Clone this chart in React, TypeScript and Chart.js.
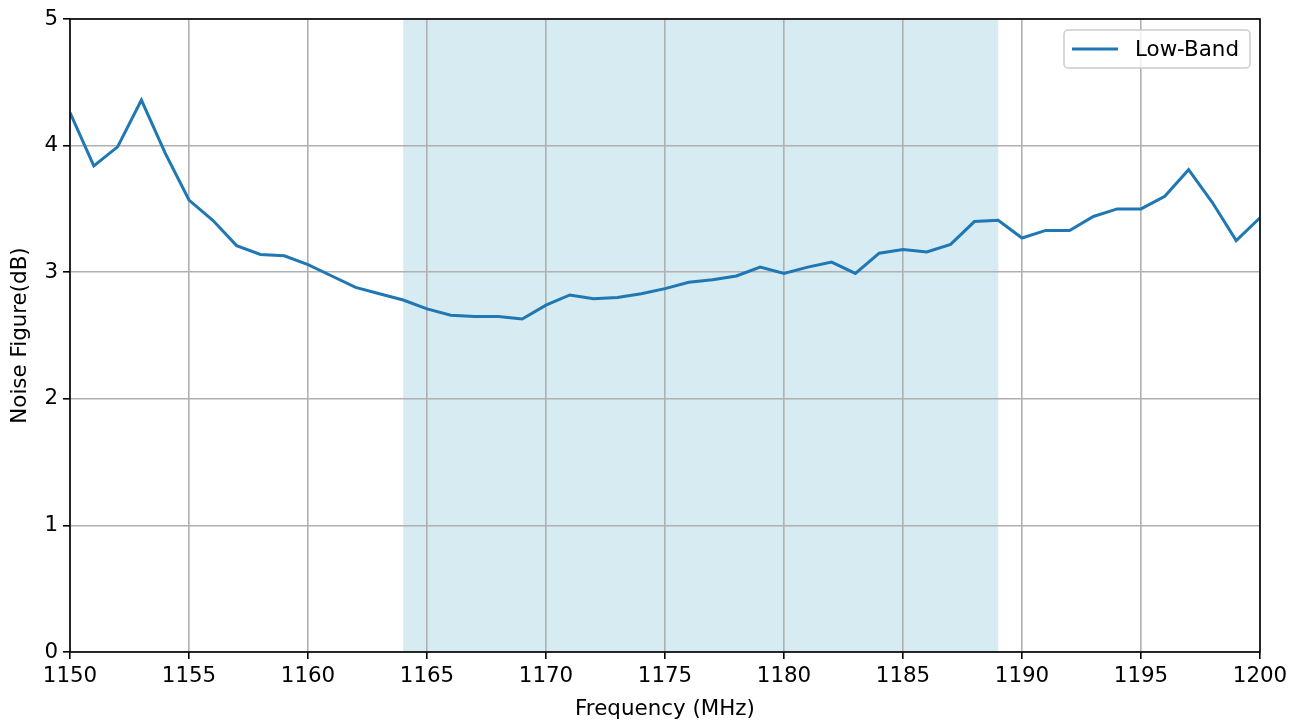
import React, { useEffect, useRef } from "react";
import { Chart, registerables } from "chart.js";

Chart.register(...registerables);

const frequencies = [
  1150, 1151, 1152, 1153, 1154, 1155, 1156, 1157, 1158, 1159,
  1160, 1161, 1162, 1163, 1164, 1165, 1166, 1167, 1168, 1169,
  1170, 1171, 1172, 1173, 1174, 1175, 1176, 1177, 1178, 1179,
  1180, 1181, 1182, 1183, 1184, 1185, 1186, 1187, 1188, 1189,
  1190, 1191, 1192, 1193, 1194, 1195, 1196, 1197, 1198, 1199, 1200,
];
const noiseFigure = [
  4.26, 3.84, 3.99, 4.36, 3.94, 3.57, 3.41, 3.21, 3.14, 3.13,
  3.06, 2.97, 2.88, 2.83, 2.78, 2.71, 2.66, 2.65, 2.65, 2.63,
  2.74, 2.82, 2.79, 2.8, 2.83, 2.87, 2.92, 2.94, 2.97, 3.04,
  2.99, 3.04, 3.08, 2.99, 3.15, 3.18, 3.16, 3.22, 3.4, 3.41,
  3.27, 3.33, 3.33, 3.44, 3.5, 3.5, 3.6, 3.81, 3.55, 3.25, 3.43,
];
const bandRange = [1164, 1189];
const seriesLabel = "Low-Band";
const xTitle = "Frequency (MHz)";
const yTitle = "Noise Figure(dB)";

const FONT = "'DejaVu Sans', sans-serif";
const FONT_SIZE = 21.4;
const LINE_COLOR = "#1f77b4";

const bandPlugin = {
  id: "band",
  beforeDraw(chart: any) {
    const { ctx, chartArea, scales } = chart;
    const x0 = scales.x.getPixelForValue(bandRange[0]);
    const x1 = scales.x.getPixelForValue(bandRange[1]);
    ctx.save();
    ctx.fillStyle = "rgba(173,216,230,0.5)";
    ctx.fillRect(x0, chartArea.top, x1 - x0, chartArea.bottom - chartArea.top);
    ctx.restore();
  },
};

const framePlugin = {
  id: "frame",
  afterDraw(chart: any) {
    const { ctx, chartArea } = chart;
    ctx.save();
    ctx.strokeStyle = "#000";
    ctx.lineWidth = 1.6;
    ctx.strokeRect(
      chartArea.left,
      chartArea.top,
      chartArea.right - chartArea.left,
      chartArea.bottom - chartArea.top
    );
    // legend
    const w = 186;
    const h = 38;
    const lx = chartArea.right - 10 - w;
    const ly = chartArea.top + 11;
    ctx.beginPath();
    ctx.roundRect(lx, ly, w, h, 4);
    ctx.fillStyle = "rgba(255,255,255,0.8)";
    ctx.fill();
    ctx.strokeStyle = "#cccccc";
    ctx.lineWidth = 1.5;
    ctx.stroke();
    ctx.beginPath();
    ctx.moveTo(lx + 8, ly + h / 2);
    ctx.lineTo(lx + 54, ly + h / 2);
    ctx.strokeStyle = LINE_COLOR;
    ctx.lineWidth = 3;
    ctx.stroke();
    ctx.fillStyle = "#000";
    ctx.font = `${FONT_SIZE}px ${FONT}`;
    ctx.textBaseline = "middle";
    ctx.textAlign = "left";
    ctx.fillText(seriesLabel, lx + 71, ly + h / 2 + 1);
    ctx.restore();
  },
};

export default function App() {
  const ref = useRef<HTMLCanvasElement | null>(null);
  useEffect(() => {
    if (!ref.current) return;
    const data = frequencies.map((f, i) => ({ x: f, y: noiseFigure[i] }));
    const chart = new Chart(ref.current, {
      type: "line",
      data: {
        datasets: [
          {
            label: seriesLabel,
            data,
            borderColor: LINE_COLOR,
            borderWidth: 3,
            pointRadius: 0,
            tension: 0,
            fill: false,
          },
        ],
      },
      plugins: [bandPlugin, framePlugin],
      options: {
        animation: false,
        responsive: false,
        maintainAspectRatio: false,
        layout: { padding: { top: 19, right: 46, left: 0, bottom: 0 } },
        plugins: {
          legend: { display: false },
          tooltip: { enabled: false },
        },
        scales: {
          x: {
            type: "linear",
            min: 1150,
            max: 1200,
            afterFit(scale: any) {
              scale.height = 70;
            },
            ticks: {
              stepSize: 5,
              autoSkip: false,
              maxRotation: 0,
              color: "#000",
              padding: 5,
              font: { family: FONT, size: FONT_SIZE },
              callback: (v: any) => String(v),
            },
            grid: {
              color: "#b0b0b0",
              lineWidth: 1.6,
              tickColor: "#000",
              tickLength: 7,
            },
            border: { display: false },
            title: {
              display: true,
              text: xTitle,
              color: "#000",
              font: { family: FONT, size: FONT_SIZE },
              padding: { top: 0, bottom: 0 },
            },
          },
          y: {
            type: "linear",
            min: 0,
            max: 5,
            afterFit(scale: any) {
              scale.width = 70;
            },
            ticks: {
              stepSize: 1,
              color: "#000",
              padding: 5,
              font: { family: FONT, size: FONT_SIZE },
              callback: (v: any) => String(v),
            },
            grid: {
              color: "#b0b0b0",
              lineWidth: 1.6,
              tickColor: "#000",
              tickLength: 7,
            },
            border: { display: false },
            title: {
              display: true,
              text: yTitle,
              color: "#000",
              font: { family: FONT, size: FONT_SIZE },
              padding: { top: 8, bottom: 0 },
            },
          },
        },
      },
    });
    return () => chart.destroy();
  }, []);
  return (
    <div style={{ position: "fixed", left: 0, top: 0, width: 1306, height: 722, background: "#fff" }}>
      <canvas ref={ref} width={1306} height={722} style={{ display: "block" }} />
    </div>
  );
}
